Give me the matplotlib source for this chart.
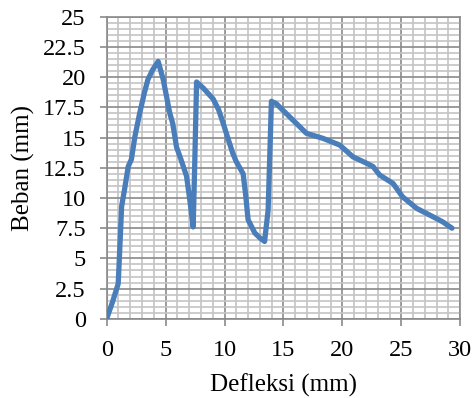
import matplotlib
matplotlib.use('Agg')
import matplotlib.pyplot as plt
from matplotlib.ticker import MultipleLocator

# load-deflection curve
defleksi = [0.0, 0.5, 0.98, 1.1, 1.27, 1.5, 1.83, 2.1, 2.4, 2.8, 3.2, 3.5, 3.9, 4.37,
            4.8, 5.36, 5.6, 5.93, 6.3, 6.78, 7.06, 7.34, 7.48, 7.63, 8.19, 9.03, 9.5,
            9.88, 10.3, 10.7, 11.0, 11.58, 11.8, 12.0, 12.57, 13.0, 13.4, 13.7, 13.98,
            14.4, 14.7, 15.8, 16.95, 18.36, 19.77, 20.9, 22.0, 22.6, 23.16, 24.3,
            25.1, 26.3, 27.7, 28.5, 29.3]
beban = [0.0, 1.4, 2.9, 5.5, 9.3, 10.6, 12.6, 13.2, 15.1, 17.0, 18.7, 19.8, 20.6, 21.3,
         19.8, 17.0, 16.2, 14.2, 13.2, 11.8, 9.8, 7.6, 13.1, 19.6, 19.1, 18.2, 17.3,
         16.2, 14.9, 13.7, 13.0, 12.0, 10.2, 8.2, 7.1, 6.7, 6.4, 9.0, 18.0,
         17.8, 17.5, 16.45, 15.35, 14.93, 14.38, 13.4, 12.9, 12.6, 11.9, 11.2,
         10.1, 9.14, 8.44, 8.03, 7.5]
yticks = [0, 2.5, 5, 7.5, 10, 12.5, 15, 17.5, 20, 22.5, 25]
ylabels = ['0', '2.5', '5', '7.5', '10', '12.5', '15', '17.5', '20', '22.5', '25']

plt.rcParams['font.family'] = ['Liberation Serif', 'DejaVu Serif']

fig = plt.figure(figsize=(4.74, 3.98), dpi=100)
ax = fig.add_axes([0.225, 0.199, 0.746, 0.759])

ax.plot(defleksi, beban, color='#4a7ebb', lw=3.8, solid_joinstyle='round',
        solid_capstyle='round', zorder=3)

ax.set_xlim(0, 30)
ax.set_ylim(0, 25)
ax.xaxis.set_major_locator(MultipleLocator(5))
ax.xaxis.set_minor_locator(MultipleLocator(1))
ax.yaxis.set_minor_locator(MultipleLocator(0.5))
ax.set_yticks(yticks)
ax.set_yticklabels(ylabels)

ax.grid(which='major', color='#8a8a8a', lw=1.2)
ax.grid(which='minor', color='#c4c4c4', lw=1.2)
ax.set_axisbelow(True)

for s in ax.spines.values():
    s.set_color('#8a8a8a')
    s.set_linewidth(1.2)

ax.tick_params(which='major', direction='out', length=5, width=1.2, color='#8a8a8a',
               labelsize=17.5)
ax.tick_params(axis='x', which='major', pad=10)
ax.tick_params(axis='y', which='major', pad=10)
ax.tick_params(which='minor', length=0)

ax.set_xlabel('Defleksi (mm)', fontsize=18, labelpad=9)
ax.set_ylabel('Beban (mm)', fontsize=18, labelpad=6)

fig.savefig('out.png', dpi=100)
